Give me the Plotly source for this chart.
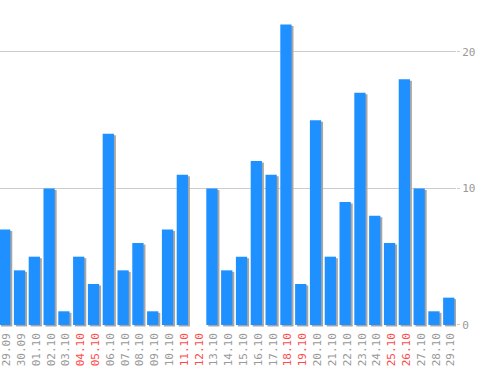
import plotly.graph_objects as go

dates = ["29.09", "30.09", "01.10", "02.10", "03.10", "04.10", "05.10", "06.10",
         "07.10", "08.10", "09.10", "10.10", "11.10", "12.10", "13.10", "14.10",
         "15.10", "16.10", "17.10", "18.10", "19.10", "20.10", "21.10", "22.10",
         "23.10", "24.10", "25.10", "26.10", "27.10", "28.10", "29.10"]
values = [7, 4, 5, 10, 1, 5, 3, 14, 4, 6, 1, 7, 11, 0, 10, 4, 5, 12, 11, 22,
          3, 15, 5, 9, 17, 8, 6, 18, 10, 1, 2]
weekend = {"04.10", "05.10", "11.10", "12.10", "18.10", "19.10", "25.10", "26.10"}

idx = list(range(len(dates)))
ticktext = [f'<span style="color:#ff4a4a">{d}</span>' if d in weekend else d for d in dates]

W = 0.76
fig = go.Figure()
fig.add_trace(go.Bar(x=idx, y=values, base=[-0.11] * len(values), width=W,
                     offset=-W / 2 + 0.13, marker=dict(color="#a6a6a6", line=dict(width=0)),
                     hoverinfo="skip", showlegend=False))
fig.add_trace(go.Bar(x=idx, y=values, width=W, offset=-W / 2,
                     marker=dict(color="#1e90ff", line=dict(width=0)),
                     showlegend=False))

fig.update_layout(
    width=498, height=370,
    margin=dict(l=0, r=42, t=0, b=43, autoexpand=False),
    barmode="overlay",
    paper_bgcolor="white", plot_bgcolor="white",
    font=dict(family="DejaVu Sans Mono", size=11, color="#999999"),
    xaxis=dict(range=[-0.318, 30.49], tickmode="array", tickvals=idx, ticktext=ticktext,
               tickangle=-90, showgrid=False, zeroline=False, showline=False, ticks="",
               automargin=False, ticklabeloverflow="allow", ticklabelshift=2,
               ticklabelstandoff=3),
    yaxis=dict(side="right", range=[-0.15, 23.8], tickvals=[0, 10, 20],
               showgrid=True, gridcolor="#cccccc", gridwidth=1,
               zeroline=True, zerolinecolor="rgba(0,0,0,0)",
               ticks="outside", ticklen=3, tickcolor="#cccccc", showline=False,
               automargin=False, ticklabeloverflow="allow"),
)
fig.write_html("out.html", config={"displayModeBar": False},
               post_script="document.body.style.margin='0';")
